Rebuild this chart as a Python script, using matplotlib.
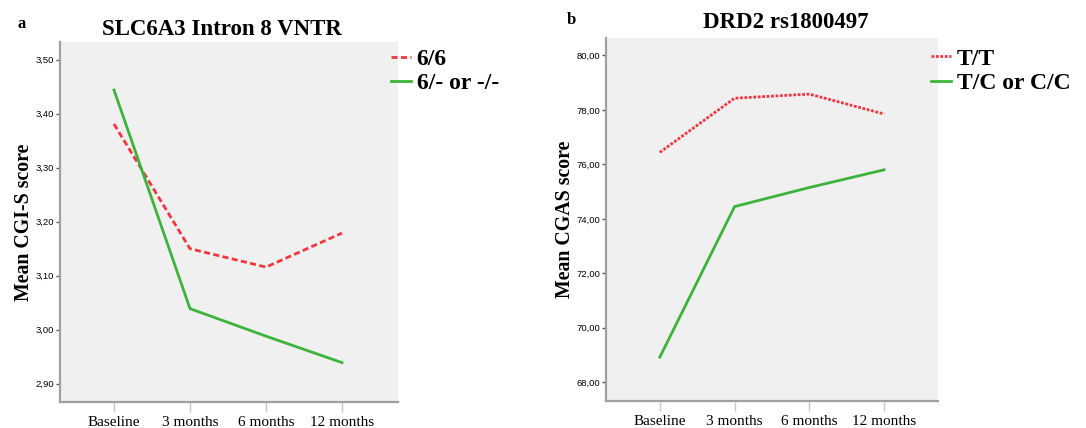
import matplotlib
matplotlib.use("Agg")
import matplotlib.pyplot as plt

# Time points shared by both panels
timepoints = ["Baseline", "3 months", "6 months", "12 months"]

# Panel a: SLC6A3 Intron 8 VNTR, mean CGI-S score
cgis_66 = [3.381, 3.150, 3.116, 3.179]
cgis_other = [3.444, 3.039, 2.988, 2.939]
cgis_ticks = [2.90, 3.00, 3.10, 3.20, 3.30, 3.40, 3.50]

# Panel b: DRD2 rs1800497, mean CGAS score
cgas_tt = [76.44, 78.43, 78.58, 77.85]
cgas_other = [68.92, 74.45, 75.15, 75.80]
cgas_ticks = [68, 70, 72, 74, 76, 78, 80]

RED = "#f2353f"
GREEN = "#3cb43c"
BG = "#f0f0f0"
SERIF = ["Liberation Serif", "DejaVu Serif"]
SANS = ["Liberation Sans", "DejaVu Sans"]
LEGEND_FONT = {"family": SERIF, "size": 17, "weight": "bold"}


def style_axes(ax, yticks, fmt, ylim, xlim):
    ax.set_facecolor(BG)
    for side in ("top", "right"):
        ax.spines[side].set_visible(False)
    for side in ("left", "bottom"):
        ax.spines[side].set_color("#a0a0a0")
        ax.spines[side].set_linewidth(1.6)
    x = range(len(timepoints))
    ax.set_xticks(list(x))
    ax.set_xticklabels(timepoints, family=SERIF, fontsize=11)
    ax.tick_params(axis="x", direction="out", length=7, width=1, color="#c8c8c8", pad=3)
    ax.set_yticks(yticks)
    ax.set_yticklabels([fmt.format(v).replace(".", ",") for v in yticks],
                       family=SANS, fontsize=6.8)
    ax.tick_params(axis="y", direction="out", length=3, width=1, color="#555555", pad=1)
    ax.set_xlim(*xlim)
    ax.set_ylim(*ylim)


fig = plt.figure(figsize=(10.86, 4.28), dpi=100)

# Panel a
ax1 = fig.add_axes([0.0548, 0.0607, 0.3117, 0.8412])
ax1.plot(range(len(timepoints)), cgis_66, color=RED, lw=2, ls=(0, (2.2, 1.2)), label="6/6")
ax1.plot(range(len(timepoints)), cgis_other, color=GREEN, lw=2, label="6/- or -/-")
style_axes(ax1, cgis_ticks, "{:.2f}", (2.866, 3.533), (-0.717, 3.737))
ax1.set_ylabel("Mean CGI-S score", family=SERIF, fontsize=14.3, fontweight="bold", labelpad=1)
ax1.set_title("SLC6A3 Intron 8 VNTR", family=SERIF, fontsize=16.5, fontweight="bold",
              pad=5, x=0.479)
ax1.legend(loc="upper left", bbox_to_anchor=(0.95, 1.008), frameon=False, prop=LEGEND_FONT,
           handlelength=0.85, handletextpad=0.25, labelspacing=0.12, borderaxespad=0)
fig.text(0.016, 0.935, "a", family=SERIF, fontsize=12, fontweight="bold")

# Panel b
ax2 = fig.add_axes([0.558, 0.0631, 0.3057, 0.8481])
ax2.plot(range(len(timepoints)), cgas_tt, color=RED, lw=2, ls=(0, (1, 0.6)), label="T/T")
ax2.plot(range(len(timepoints)), cgas_other, color=GREEN, lw=2, label="T/C or C/C")
style_axes(ax2, cgas_ticks, "{:.2f}", (67.31, 80.64), (-0.72, 3.72))
ax2.set_ylabel("Mean CGAS score", family=SERIF, fontsize=14.3, fontweight="bold", labelpad=1)
ax2.set_title("DRD2 rs1800497", family=SERIF, fontsize=16.5, fontweight="bold",
              pad=7, x=0.542)
ax2.legend(loc="upper left", bbox_to_anchor=(0.95, 0.998), frameon=False, prop=LEGEND_FONT,
           handlelength=0.85, handletextpad=0.25, labelspacing=0.12, borderaxespad=0)
fig.text(0.522, 0.945, "b", family=SERIF, fontsize=12, fontweight="bold")

fig.savefig("out.png", dpi=100, facecolor="white")
